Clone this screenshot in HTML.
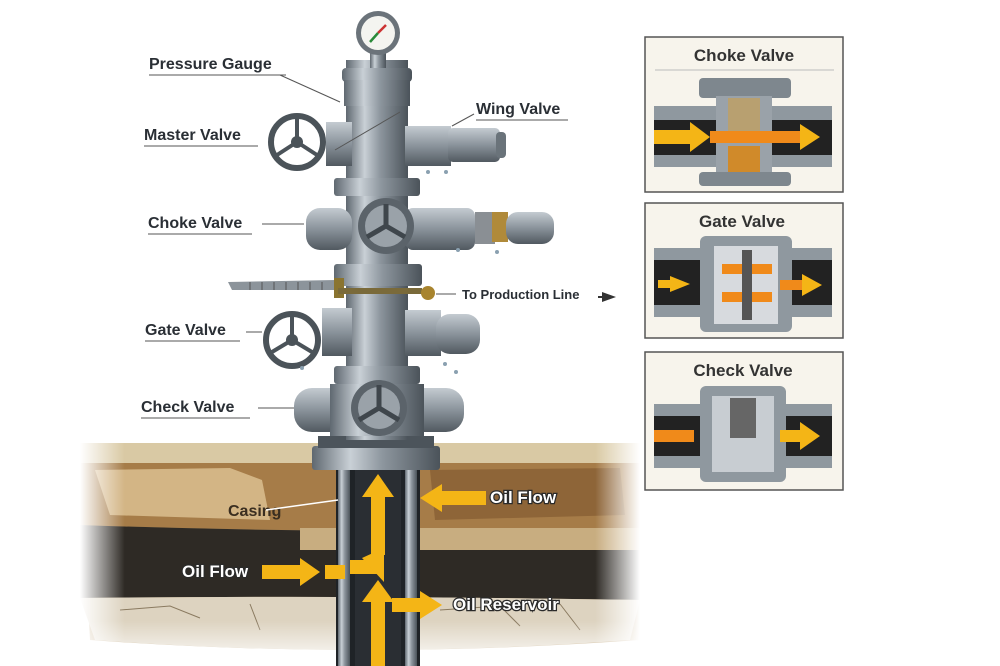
<!DOCTYPE html>
<html><head><meta charset="utf-8"><style>
html,body{margin:0;padding:0;background:#fff}
svg{display:block}
text{font-family:"Liberation Sans",sans-serif;font-weight:bold}
.wl{fill:#fff;stroke:#2a2a2a;stroke-width:2.5;paint-order:stroke;font-size:17px}
</style></head><body>
<svg width="1000" height="666" viewBox="0 0 1000 666" xmlns="http://www.w3.org/2000/svg">
<defs>
<linearGradient id="met" x1="0" x2="1" y1="0" y2="0">
<stop offset="0" stop-color="#5f6870"/><stop offset="0.3" stop-color="#c9d0d6"/><stop offset="0.55" stop-color="#8d969e"/><stop offset="1" stop-color="#4b535a"/></linearGradient>
<linearGradient id="metv" x1="0" x2="0" y1="0" y2="1">
<stop offset="0" stop-color="#c4cbd1"/><stop offset="0.5" stop-color="#8a939b"/><stop offset="1" stop-color="#515960"/></linearGradient>
<linearGradient id="fl" x1="0" x2="1"><stop offset="0" stop-color="#fff"/><stop offset="0.08" stop-color="#fff" stop-opacity="0"/><stop offset="0.92" stop-color="#fff" stop-opacity="0"/><stop offset="1" stop-color="#fff"/></linearGradient>
<linearGradient id="fb" x1="0" x2="0" y1="0" y2="1"><stop offset="0.8" stop-color="#fff" stop-opacity="0"/><stop offset="1" stop-color="#fff"/></linearGradient>
</defs>
<rect width="1000" height="666" fill="#fff"/>
<!-- ground -->
<g>
<path d="M80 450 Q360 438 640 448 L640 640 Q360 660 90 640 Z" fill="#b89a6a"/>
<rect x="80" y="443" width="560" height="20" fill="#d9c9a4"/>
<path d="M80 463 L640 463 L640 528 Q360 535 80 525 Z" fill="#a67c48"/>
<path d="M95 470 L230 468 L262 480 L270 520 L110 515Z" fill="#d3b585"/>
<path d="M430 470 L620 468 L625 515 L435 520Z" fill="#8e6538"/>
<path d="M80 525 Q360 535 640 528 L640 600 Q360 595 80 598 Z" fill="#2e2a25"/>
<rect x="420" y="528" width="220" height="22" fill="#c8ad80"/>
<rect x="300" y="528" width="40" height="22" fill="#c8ad80"/>
<path d="M80 598 Q360 595 640 600 L630 640 Q360 660 95 640 Z" fill="#ddd3c0"/>
<g stroke="#8a7a60" stroke-width="1" fill="none">
<path d="M120 610 L170 606 L200 618 M250 604 L260 630 M440 610 L500 606 L520 626 M560 604 L580 630"/>
</g>
<rect x="80" y="440" width="560" height="226" fill="url(#fl)"/>
<rect x="80" y="440" width="560" height="226" fill="url(#fb)"/>
</g>
<!-- casing -->
<rect x="336" y="470" width="84" height="196" fill="#1f2327"/>
<rect x="338" y="470" width="12" height="196" fill="url(#met)"/>
<rect x="405" y="470" width="12" height="196" fill="url(#met)"/>
<rect x="355" y="470" width="46" height="196" fill="#2a2e33"/>
<!-- base plate -->
<rect x="312" y="446" width="128" height="24" rx="3" fill="url(#met)"/>
<rect x="318" y="436" width="116" height="12" fill="#4c545b"/>
<!-- column -->
<rect x="346" y="60" width="62" height="380" fill="url(#met)"/>
<!-- gauge -->
<rect x="370" y="48" width="16" height="20" fill="url(#met)"/>
<circle cx="378" cy="33" r="22" fill="#6b737a"/><circle cx="378" cy="33" r="17" fill="#f4f4f0"/>
<line x1="378" y1="33" x2="386" y2="25" stroke="#c33" stroke-width="2.5"/>
<line x1="378" y1="33" x2="370" y2="42" stroke="#2a8a3a" stroke-width="2.5"/>
<!-- flanges -->
<rect x="342" y="68" width="70" height="14" rx="4" fill="url(#met)"/>
<rect x="344" y="80" width="66" height="26" fill="url(#met)"/>
<rect x="334" y="178" width="86" height="18" rx="3" fill="url(#met)"/>
<rect x="334" y="264" width="88" height="22" rx="3" fill="url(#met)"/>
<rect x="334" y="366" width="86" height="18" rx="3" fill="url(#met)"/>
<!-- row1 -->
<rect x="326" y="122" width="26" height="44" fill="url(#metv)"/>
<rect x="405" y="126" width="46" height="40" fill="url(#metv)"/>
<rect x="448" y="128" width="52" height="34" rx="5" fill="url(#metv)"/>
<rect x="496" y="132" width="10" height="26" rx="4" fill="#6a737a"/>
<circle cx="297" cy="142" r="26" fill="none" stroke="#4b5359" stroke-width="6"/>
<circle cx="297" cy="142" r="6" fill="#4b5359"/>
<path d="M297 142 L297 118 M297 142 L277 155 M297 142 L317 155" stroke="#4b5359" stroke-width="4"/>
<!-- row2 -->
<rect x="306" y="208" width="46" height="42" rx="14" fill="url(#metv)"/>
<rect x="405" y="208" width="70" height="42" rx="8" fill="url(#metv)"/>
<rect x="475" y="212" width="20" height="32" fill="#8a8f94"/>
<rect x="492" y="212" width="16" height="30" fill="#b08a3a"/>
<rect x="506" y="212" width="48" height="32" rx="12" fill="url(#metv)"/>
<circle cx="386" cy="226" r="28" fill="#5b636a"/><circle cx="386" cy="226" r="21" fill="#9aa2a9"/>
<path d="M386 226 L386 204 M386 226 L367 237 M386 226 L405 237" stroke="#3f464c" stroke-width="5"/>
<!-- side rod -->
<polygon points="228,282 336,280 336,290 232,290" fill="#8c949b"/>
<g stroke="#555" stroke-width="1"><path d="M250 282v8M262 282v8M274 282v8M286 282v8M298 282v8M310 282v8M322 282v8"/></g>
<rect x="334" y="278" width="10" height="20" fill="#8a7430"/>
<rect x="338" y="288" width="84" height="6" fill="#7a6a3a"/>
<circle cx="428" cy="293" r="7" fill="#a8842e"/>
<!-- row3 -->
<rect x="322" y="308" width="30" height="48" fill="url(#metv)"/>
<rect x="405" y="310" width="36" height="46" fill="url(#metv)"/>
<rect x="436" y="314" width="44" height="40" rx="14" fill="url(#metv)"/>
<circle cx="292" cy="340" r="26" fill="none" stroke="#4b5359" stroke-width="6"/>
<circle cx="292" cy="340" r="6" fill="#4b5359"/>
<path d="M292 340 L292 316 M292 340 L272 352 M292 340 L312 352" stroke="#4b5359" stroke-width="4"/>
<!-- row4 -->
<rect x="294" y="388" width="62" height="44" rx="18" fill="url(#metv)"/>
<rect x="400" y="388" width="64" height="44" rx="18" fill="url(#metv)"/>
<rect x="330" y="384" width="94" height="52" fill="url(#met)"/>
<circle cx="379" cy="408" r="28" fill="#5b636a"/><circle cx="379" cy="408" r="21" fill="#9aa2a9"/>
<path d="M379 408 L379 385 M379 408 L359 420 M379 408 L399 420" stroke="#3f464c" stroke-width="5"/>
<!-- drips -->
<g fill="#8aa0b0"><circle cx="428" cy="172" r="2"/><circle cx="446" cy="172" r="2"/><circle cx="458" cy="250" r="2"/><circle cx="497" cy="252" r="2"/><circle cx="445" cy="364" r="2"/><circle cx="456" cy="372" r="2"/><circle cx="302" cy="368" r="2"/></g>
<!-- yellow arrows -->
<g fill="#f4b516">
<rect x="371" y="495" width="14" height="60"/><polygon points="362,497 378,474 394,497"/>
<rect x="371" y="600" width="14" height="66"/><polygon points="362,602 378,580 394,602"/>
<rect x="262" y="565" width="40" height="14"/><polygon points="300,558 320,572 300,586"/>
<rect x="325" y="565" width="20" height="14"/>
<rect x="350" y="560" width="30" height="14"/><polygon points="362,558 384,548 384,582"/>
<rect x="440" y="491" width="46" height="14"/><polygon points="442,484 420,498 442,512"/>
<rect x="392" y="598" width="30" height="14"/><polygon points="420,591 442,605 420,619"/>
</g>
<!-- labels -->
<g fill="#2a2f35" font-size="16">
<text x="149" y="69">Pressure Gauge</text>
<text x="144" y="140">Master Valve</text>
<text x="476" y="114">Wing Valve</text>
<text x="148" y="228">Choke Valve</text>
<text x="145" y="335">Gate Valve</text>
<text x="141" y="412">Check Valve</text>
<text x="462" y="299" font-size="13">To Production Line</text>
</g>
<text x="228" y="516" fill="#3a2e20" font-size="16">Casing</text>
<text class="wl" x="490" y="503">Oil Flow</text>
<text class="wl" x="182" y="577">Oil Flow</text>
<text class="wl" x="453" y="610">Oil Reservoir</text>
<g stroke="#555" stroke-width="1">
<line x1="149" y1="75" x2="286" y2="75"/><line x1="280" y1="75" x2="340" y2="102"/>
<line x1="144" y1="146" x2="258" y2="146"/><line x1="335" y1="150" x2="400" y2="112"/>
<line x1="476" y1="120" x2="568" y2="120"/><line x1="474" y1="114" x2="452" y2="126"/>
<line x1="148" y1="234" x2="252" y2="234"/><line x1="262" y1="224" x2="304" y2="224"/>
<line x1="145" y1="341" x2="240" y2="341"/><line x1="246" y1="332" x2="262" y2="332"/>
<line x1="141" y1="418" x2="250" y2="418"/><line x1="258" y1="408" x2="294" y2="408"/>
<line x1="436" y1="294" x2="456" y2="294"/>
<line x1="266" y1="510" x2="338" y2="500" stroke="#fff" stroke-width="1.5"/>
</g>
<polygon points="602,292 616,297 602,302" fill="#333"/><rect x="598" y="296" width="6" height="2" fill="#333"/>
<!-- panels -->
<g>
<rect x="645" y="37" width="198" height="155" fill="#f7f4ec" stroke="#555" stroke-width="1.5"/>
<text x="744" y="61" text-anchor="middle" font-size="17" fill="#333">Choke Valve</text>
<line x1="655" y1="70" x2="834" y2="70" stroke="#bbb"/>
<rect x="699" y="78" width="92" height="20" rx="4" fill="#7e878e"/>
<rect x="654" y="106" width="178" height="14" fill="#8f989f"/><rect x="654" y="155" width="178" height="12" fill="#8f989f"/>
<rect x="654" y="120" width="178" height="35" fill="#222"/>
<rect x="716" y="96" width="56" height="88" fill="#9aa2a9"/>
<rect x="728" y="98" width="32" height="34" fill="#b8a070"/><rect x="728" y="146" width="32" height="30" fill="#d08a2a"/>
<rect x="699" y="172" width="92" height="14" rx="4" fill="#7e878e"/>
<rect x="654" y="130" width="40" height="14" fill="#f4b516"/><polygon points="690,122 710,137 690,152" fill="#f4b516"/>
<rect x="710" y="131" width="95" height="12" fill="#f08a1a"/><polygon points="800,124 820,137 800,150" fill="#f4b516"/>
</g>
<g>
<rect x="645" y="203" width="198" height="135" fill="#f7f4ec" stroke="#555" stroke-width="1.5"/>
<text x="742" y="227" text-anchor="middle" font-size="17" fill="#333">Gate Valve</text>
<rect x="654" y="248" width="178" height="12" fill="#8f989f"/><rect x="654" y="305" width="178" height="12" fill="#8f989f"/>
<rect x="654" y="260" width="178" height="45" fill="#222"/>
<rect x="700" y="236" width="92" height="96" rx="6" fill="#8f989f"/>
<rect x="714" y="246" width="64" height="78" fill="#d7dade"/>
<rect x="722" y="264" width="50" height="10" fill="#f08a1a"/><rect x="722" y="292" width="50" height="10" fill="#f08a1a"/>
<rect x="742" y="250" width="10" height="70" fill="#555"/>
<polygon points="670,276 690,284 670,292" fill="#f4b516"/><rect x="658" y="280" width="14" height="8" fill="#f4b516"/>
<rect x="780" y="280" width="25" height="10" fill="#f08a1a"/><polygon points="802,274 822,285 802,296" fill="#f4b516"/>
</g>
<g>
<rect x="645" y="352" width="198" height="138" fill="#f7f4ec" stroke="#555" stroke-width="1.5"/>
<text x="743" y="376" text-anchor="middle" font-size="17" fill="#333">Check Valve</text>
<rect x="654" y="404" width="178" height="12" fill="#8f989f"/><rect x="654" y="456" width="178" height="12" fill="#8f989f"/>
<rect x="654" y="416" width="178" height="40" fill="#222"/>
<rect x="700" y="386" width="86" height="96" rx="6" fill="#8f989f"/>
<rect x="712" y="396" width="62" height="76" fill="#c8cdd2"/>
<rect x="730" y="398" width="26" height="40" fill="#666"/>
<rect x="654" y="430" width="40" height="12" fill="#f08a1a"/>
<rect x="780" y="430" width="26" height="12" fill="#f4b516"/><polygon points="800,422 820,436 800,450" fill="#f4b516"/>
</g>
</svg>
</body></html>
